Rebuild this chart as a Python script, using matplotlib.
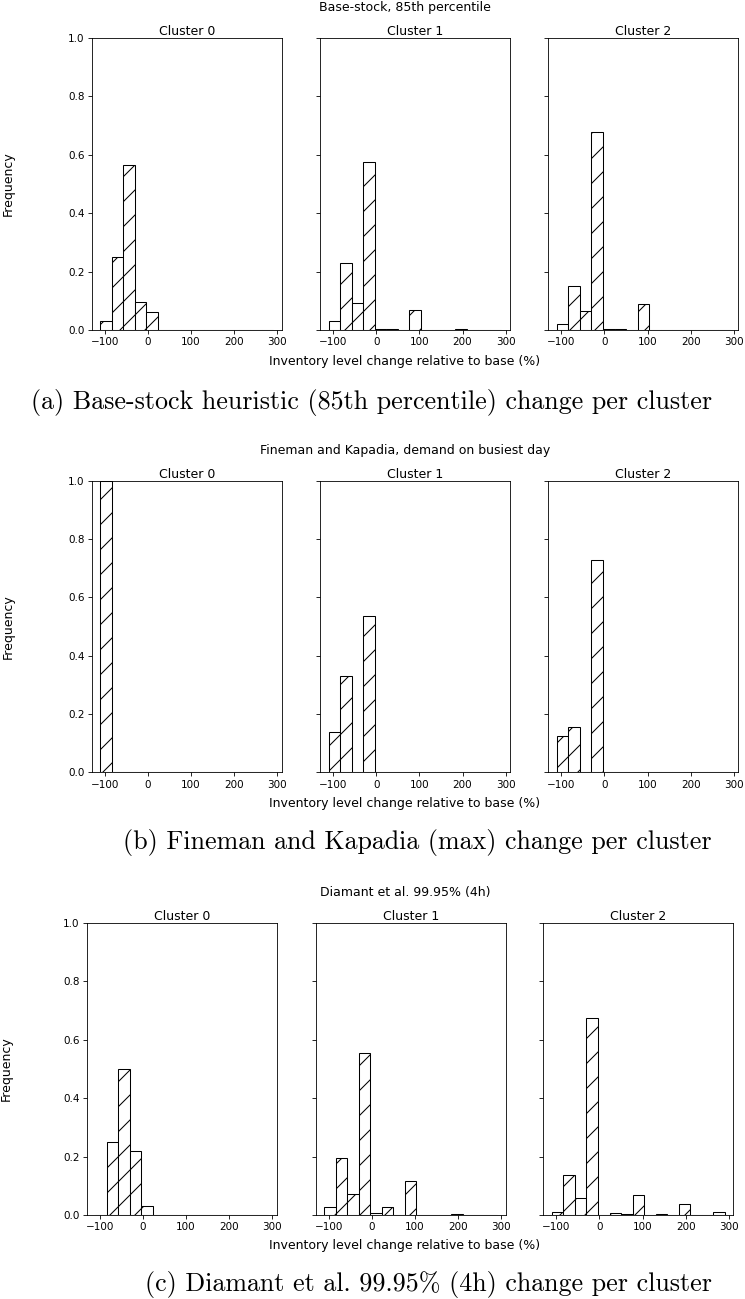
import numpy as np
import matplotlib
matplotlib.use("Agg")
import matplotlib.pyplot as plt

# histogram bins (inventory level change, %)
bin_start = -110
bin_end = 290
n_bins = 15

clusters = ["Cluster 0", "Cluster 1", "Cluster 2"]

# frequencies per bin
base_stock = [
    [0.032, 0.251, 0.564, 0.096, 0.063, 0, 0, 0, 0, 0, 0, 0, 0, 0, 0],
    [0.032, 0.228, 0.091, 0.574, 0.004, 0.003, 0, 0.068, 0, 0, 0, 0.002, 0, 0, 0],
    [0.020, 0.152, 0.065, 0.677, 0.002, 0.004, 0, 0.090, 0, 0, 0, 0, 0, 0, 0],
]
fineman = [
    [1.0, 0, 0, 0, 0, 0, 0, 0, 0, 0, 0, 0, 0, 0, 0],
    [0.138, 0.330, 0, 0.535, 0, 0, 0, 0, 0, 0, 0, 0, 0, 0, 0],
    [0.123, 0.155, 0, 0.727, 0, 0, 0, 0, 0, 0, 0, 0, 0, 0, 0],
]
diamant = [
    [0, 0.250, 0.499, 0.219, 0.032, 0, 0, 0, 0, 0, 0, 0, 0, 0, 0],
    [0.027, 0.196, 0.071, 0.555, 0.007, 0.026, 0.001, 0.115, 0, 0, 0, 0.004, 0, 0, 0.001],
    [0.010, 0.136, 0.059, 0.674, 0, 0.008, 0.002, 0.070, 0, 0.002, 0, 0.039, 0, 0, 0.009],
]

suptitles = ["Base-stock, 85th percentile",
             "Fineman and Kapadia, demand on busiest day",
             "Diamant et al. 99.95% (4h)"]
captions = ["(a) Base-stock heuristic (85th percentile) change per cluster",
            "(b) Fineman and Kapadia (max) change per cluster",
            "(c) Diamant et al. 99.95% (4h) change per cluster"]
xlabel = "Inventory level change relative to base (%)"

W, H = 745, 1299
DPI = 75

fig = plt.figure(figsize=(W / DPI, H / DPI), dpi=DPI)


def box(l, t, r, b):
    return [l / W, 1 - b / H, (r - l) / W, (b - t) / H]


edges = np.linspace(bin_start, bin_end, n_bins + 1)
centers = (edges[:-1] + edges[1:]) / 2

rows = [
    (base_stock, 37.7, 330.0, [91.7, 320.0, 548.3], 402, 8.5),
    (fineman, 480.7, 772.3, [91.7, 320.0, 548.3], 843, 8.5),
    (diamant, 922.7, 1215.0, [86.7, 315.7, 543.3], 1285, 6.5),
]

for r, (data, top, bottom, lefts, cap_y, ylab_x) in enumerate(rows):
    axes = []
    for c, left in enumerate(lefts):
        ax = fig.add_axes(box(left, top, left + 190, bottom),
                          sharey=axes[0] if axes else None)
        ax.hist(centers, bins=edges, weights=data[c], color="white",
                edgecolor="black", hatch="/")
        ax.set_title(clusters[c], fontsize=12, pad=3)
        ax.set_ylim(0, 1)
        ax.set_xticks([-100, 0, 100, 200, 300])
        if c > 0:
            ax.tick_params(labelleft=False)
        axes.append(ax)
    fig.text(405 / W, 1 - (top - 37) / H, suptitles[r], ha="center", va="top",
             fontsize=12)
    fig.text(405 / W, 1 - (bottom + 31) / H, xlabel, ha="center",
             va="center", fontsize=12)
    fig.text(ylab_x / W, 1 - (top + bottom) / 2 / H, "Frequency",
             rotation=90, ha="center", va="center", fontsize=12)
    fig.text(712 / W, 1 - cap_y / H, captions[r], ha="right", va="center",
             family="cmr10", fontsize=25)

fig.savefig("out.png", dpi=DPI)
